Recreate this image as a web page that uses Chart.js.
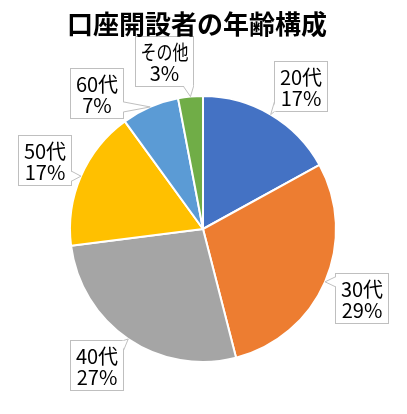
<!DOCTYPE html>
<html>
<head>
<meta charset="utf-8">
<script src="https://cdn.jsdelivr.net/npm/chart.js@4/dist/chart.umd.min.js"></script>
<style>
  html, body { margin: 0; padding: 0; background: #fff; }
  #wrap { width: 407px; height: 414px; position: relative; }
</style>
</head>
<body>
<div id="wrap"><canvas id="c"></canvas></div>
<script>
const chartTitle = "口座開設者の年齢構成";
const categories = ["20代", "30代", "40代", "50代", "60代", "その他"];
const values = [17, 29, 27, 17, 7, 3];
const colors = ["#4472C4", "#ED7D31", "#A5A5A5", "#FFC000", "#5B9BD5", "#70AD47"];

const FONT = '"Noto Sans CJK JP", "Noto Sans", sans-serif';

const titlePlugin = {
  id: 'customTitle',
  afterDraw(chart) {
    const ctx = chart.ctx;
    ctx.save();
    ctx.font = 'bold 26px ' + FONT;
    ctx.fillStyle = '#000';
    ctx.textAlign = 'center';
    ctx.textBaseline = 'middle';
    ctx.fillText(chartTitle, 197, 24);
    ctx.restore();
  }
};

const calloutPlugin = {
  id: 'callouts',
  afterDatasetsDraw(chart, args, opts) {
    const ctx = chart.ctx;
    const meta = chart.getDatasetMeta(0);
    const total = values.reduce((a, b) => a + b, 0);
    ctx.save();
    ctx.font = opts.fontSize + 'px ' + FONT;
    meta.data.forEach((arc, i) => {
      const p = arc.getProps(['x', 'y', 'startAngle', 'endAngle', 'outerRadius'], true);
      const mid = (p.startAngle + p.endAngle) / 2;
      const tip = { x: p.x + Math.cos(mid) * p.outerRadius, y: p.y + Math.sin(mid) * p.outerRadius };
      const la = mid + (opts.nudge[i] || 0) * Math.PI / 180;
      const d = p.outerRadius * opts.distRatio;
      const cx = p.x + Math.cos(la) * d, cy = p.y + Math.sin(la) * d;
      const lines = [categories[i], Math.round(values[i] / total * 100) + '%'];
      const tw = Math.min(Math.max(...lines.map(t => ctx.measureText(t).width)), opts.maxTextW);
      const w = Math.max(tw + opts.padX * 2, opts.minW);
      const h = opts.lineH * lines.length + opts.padY * 2;
      const b = { x0: Math.round(cx - w / 2) + 0.5, y0: Math.round(cy - h / 2) + 0.5 };
      b.x1 = b.x0 + Math.round(w); b.y1 = b.y0 + Math.round(h);

      const hw = 5;
      const dxL = b.x0 - tip.x, dxR = tip.x - b.x1, dyT = b.y0 - tip.y, dyB = tip.y - b.y1;
      const m = Math.max(dxL, dxR, dyT, dyB);
      const clamp = (v, a, z) => Math.min(Math.max(v, a), z);
      let b1, b2, i1, i2;
      if (m === dxL || m === dxR) {
        const x = m === dxL ? b.x0 : b.x1;
        const inx = m === dxL ? 1 : -1;
        const yy = clamp(tip.y, b.y0 + hw, b.y1 - hw);
        b1 = [x, yy - hw]; b2 = [x, yy + hw];
        i1 = [x + inx, yy - hw]; i2 = [x + inx, yy + hw];
      } else {
        const y = m === dyT ? b.y0 : b.y1;
        const iny = m === dyT ? 1 : -1;
        const xx = clamp(tip.x, b.x0 + hw, b.x1 - hw);
        b1 = [xx - hw, y]; b2 = [xx + hw, y];
        i1 = [xx - hw, y + iny]; i2 = [xx + hw, y + iny];
      }

      ctx.fillStyle = '#fff';
      ctx.strokeStyle = '#BFBFBF';
      ctx.lineWidth = 1;
      ctx.fillRect(b.x0, b.y0, b.x1 - b.x0, b.y1 - b.y0);
      ctx.strokeRect(b.x0, b.y0, b.x1 - b.x0, b.y1 - b.y0);
      ctx.beginPath();
      ctx.moveTo(i1[0], i1[1]);
      ctx.lineTo(tip.x, tip.y);
      ctx.lineTo(i2[0], i2[1]);
      ctx.closePath();
      ctx.fill();
      ctx.beginPath();
      ctx.moveTo(b1[0], b1[1]);
      ctx.lineTo(tip.x, tip.y);
      ctx.lineTo(b2[0], b2[1]);
      ctx.stroke();

      ctx.fillStyle = '#000';
      ctx.textAlign = 'center';
      ctx.textBaseline = 'middle';
      const mx = (b.x0 + b.x1) / 2, my = (b.y0 + b.y1) / 2;
      lines.forEach((t, k) => {
        ctx.fillText(t, mx, my + 1 + (k - (lines.length - 1) / 2) * opts.lineH, opts.maxTextW);
      });
    });
    ctx.restore();
  }
};

new Chart(document.getElementById('c'), {
  type: 'pie',
  data: {
    labels: categories,
    datasets: [{
      data: values,
      backgroundColor: colors,
      borderColor: '#ffffff',
      borderWidth: 2
    }]
  },
  options: {
    responsive: true,
    maintainAspectRatio: false,
    animation: false,
    layout: { padding: { top: 95, bottom: 51, left: 69, right: 70 } },
    plugins: {
      legend: { display: false },
      tooltip: { enabled: false },
      title: { display: false },
      callouts: {
        fontSize: 20,
        lineH: 21,
        padX: 5,
        padY: 4,
        minW: 53,
        maxTextW: 48,
        distRatio: 1.3,
        nudge: [3.6, 0, 3.8, 0, -14.6, -7.8]
      }
    }
  },
  plugins: [titlePlugin, calloutPlugin]
});
</script>
</body>
</html>
